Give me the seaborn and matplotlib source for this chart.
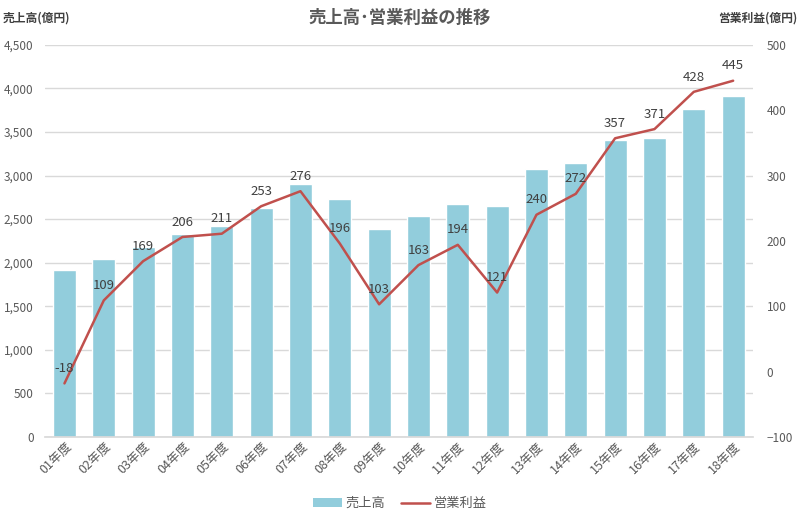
import matplotlib
matplotlib.use("Agg")
import matplotlib.pyplot as plt
import numpy as np
import pandas as pd
import seaborn as sns
from matplotlib.lines import Line2D
from matplotlib.patches import Patch

# データ
nendo = ["01年度", "02年度", "03年度", "04年度", "05年度", "06年度", "07年度", "08年度", "09年度",
         "10年度", "11年度", "12年度", "13年度", "14年度", "15年度", "16年度", "17年度", "18年度"]
uriage = [1915, 2040, 2185, 2330, 2420, 2630, 2900, 2730, 2390,
          2530, 2670, 2645, 3080, 3140, 3410, 3425, 3760, 3910]
eigyo_rieki = [-18, 109, 169, 206, 211, 253, 276, 196, 103,
               163, 194, 121, 240, 272, 357, 371, 428, 445]

sns.set_theme(style="white")
plt.rcParams['font.family'] = ['Noto Sans CJK JP', 'DejaVu Sans']

color_bar = "#92CDDC"
color_line = "#C0504D"
gris = "#595959"

df = pd.DataFrame({"年度": nendo, "売上高": uriage, "営業利益": eigyo_rieki})

fig = plt.figure(figsize=(8, 5.23), dpi=100)
ax = fig.add_axes([0.056, 0.1644, 0.885, 0.75])

sns.barplot(data=df, x="年度", y="売上高", color=color_bar, width=0.58,
            saturation=1, ax=ax, zorder=2)
ax.set_ylim(0, 4500)
ax.set_yticks(np.arange(0, 4501, 500))
ax.set_yticklabels([f"{v:,}" for v in range(0, 4501, 500)])
ax.yaxis.grid(True, color="#D9D9D9", linewidth=1, zorder=0)
ax.set_axisbelow(True)
ax.set_xlabel("")
ax.set_ylabel("")
ax.set_xlim(-0.5, len(nendo) - 0.5)
for s in ["top", "right", "left"]:
    ax.spines[s].set_visible(False)
ax.spines["bottom"].set_color("#D9D9D9")
ax.tick_params(axis="y", colors=gris, labelsize=8.5, length=0, pad=8)
ax.tick_params(axis="x", colors=gris, labelsize=9, length=0, pad=2)
plt.setp(ax.get_xticklabels(), rotation=45, ha="right", rotation_mode="anchor")

ax2 = ax.twinx()
x_pos = np.arange(len(nendo))
sns.lineplot(x=x_pos, y=eigyo_rieki, color=color_line, linewidth=1.8, ax=ax2, zorder=3)
ax2.set_ylim(-100, 500)
ax2.set_yticks(np.arange(-100, 501, 100))
ax2.set_xlim(-0.5, len(nendo) - 0.5)
ax2.grid(False)
for s in ["top", "right", "left", "bottom"]:
    ax2.spines[s].set_visible(False)
ax2.tick_params(axis="y", colors=gris, labelsize=8.5, length=0, pad=10)

for xi, v in zip(x_pos, eigyo_rieki):
    ax2.annotate(str(v), (xi, v), xytext=(0, 6), textcoords="offset points",
                 ha="center", va="bottom", fontsize=9.5, color="#404040")

fig.text(0.5, 0.965, "売上高･営業利益の推移", ha="center", va="center",
         fontsize=12.5, fontweight="bold", color=gris)
fig.text(0.003, 0.965, "売上高(億円)", ha="left", va="center",
         fontsize=8.5, fontweight="bold", color="#404040")
fig.text(0.997, 0.965, "営業利益(億円)", ha="right", va="center",
         fontsize=8.5, fontweight="bold", color="#404040")

handles = [Patch(facecolor=color_bar, edgecolor="none", label="売上高"),
           Line2D([0], [0], color=color_line, linewidth=1.8, label="営業利益")]
fig.legend(handles=handles, loc="center", bbox_to_anchor=(0.5, 0.037), ncol=2,
           frameon=False, fontsize=9.5, handlelength=2.2, handletextpad=0.3,
           columnspacing=1.2, labelcolor=gris)

fig.savefig("out.png", dpi=100, facecolor="white")
